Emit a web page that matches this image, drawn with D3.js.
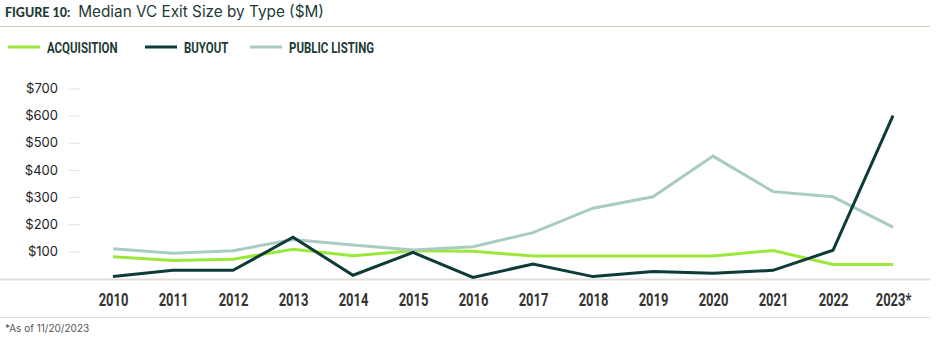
<!DOCTYPE html>
<html><head><meta charset="utf-8">
<script src="https://cdn.jsdelivr.net/npm/d3@7"></script>
<style>
body{margin:0;background:#fff;}
svg{display:block;}
</style></head>
<body>
<svg id="chart" width="945" height="340"></svg>
<script>
const years = ["2010","2011","2012","2013","2014","2015","2016","2017","2018","2019","2020","2021","2022","2023*"];
const acquisition = [80,66,71,108,84,102,100,83,83,83,83,103,52,52];
const buyout = [7,30,30,152,12,96,4,53,7,26,19,30,104,600];
const publicListing = [110,93,102,144,123,105,117,169,259,301,451,320,301,189];
const yTicks = [100,200,300,400,500,600,700];
const seriesNames = ["ACQUISITION","BUYOUT","PUBLIC LISTING"];
const seriesColors = ["#9be83a","#0d3b37","#a9cbc3"];

const svg = d3.select("#chart");
const condensed = "Roboto, 'Noto Sans', sans-serif";
const squeeze = 0.74;

// Title
const title = svg.append("text").attr("x",5).attr("y",17).attr("fill","#1d3b36");
title.append("tspan").attr("font-family","Lato, 'Noto Sans', sans-serif").attr("font-weight","900").attr("font-size",12.5).text("FIGURE 10:");
title.append("tspan").attr("dx",8).attr("font-family","Inter, 'Noto Sans', sans-serif").attr("font-size",15.3).attr("font-weight","400").text("Median VC Exit Size by Type ($M)");
svg.append("line").attr("x1",0).attr("x2",930).attr("y1",26.5).attr("y2",26.5).attr("stroke","#d3c9b8").attr("stroke-width",1);

// Legend
const legX = [8,145,250];
seriesNames.forEach((n,i)=>{
  const g = svg.append("g").attr("transform",`translate(${legX[i]},47)`);
  g.append("line").attr("x1",0).attr("x2",32).attr("y1",0).attr("y2",0).attr("stroke",seriesColors[i]).attr("stroke-width",3);
  g.append("text").attr("transform",`translate(39,5.5) scale(${squeeze},1)`).attr("font-family",condensed).attr("font-weight","700").attr("font-size",15.5).attr("fill","#1d3b36").text(n);
});

const x = d3.scalePoint().domain(years).range([113,893]);
const y = d3.scaleLinear().domain([0,700]).range([278.5,88.5]);

// y ticks
const yAxis = svg.append("g").attr("transform","translate(80,0)")
  .call(d3.axisLeft(y).tickValues(yTicks).tickSize(12).tickPadding(10).tickFormat(d=>"$"+d));
yAxis.select(".domain").remove();
yAxis.selectAll(".tick line").attr("stroke","#e6e3dc").attr("stroke-width",1);
yAxis.selectAll(".tick text").attr("font-family","Inter, 'Noto Sans', sans-serif").attr("font-size",13).attr("fill","#222");

// baseline
svg.append("line").attr("x1",0).attr("x2",930).attr("y1",279.5).attr("y2",279.5).attr("stroke","#e0ddd6").attr("stroke-width",2);

// x axis labels
const xAxis = svg.append("g").attr("transform","translate(0,280)")
  .call(d3.axisBottom(x).tickSize(0).tickPadding(13));
xAxis.select(".domain").remove();
xAxis.selectAll(".tick text").attr("transform","scale(0.72,1)").attr("font-family",condensed).attr("font-weight","700").attr("font-size",18).attr("fill","#333");

// bottom rule & footnote
svg.append("line").attr("x1",0).attr("x2",930).attr("y1",317.5).attr("y2",317.5).attr("stroke","#e0ddd6").attr("stroke-width",1);
svg.append("text").attr("x",5).attr("y",332).attr("font-family","Inter, 'Noto Sans', sans-serif").attr("font-size",10).attr("fill","#555").text("*As of 11/20/2023");

// lines
const line = d3.line().x((d,i)=>x(years[i])).y(d=>y(d));
[[acquisition,0],[publicListing,2],[buyout,1]].forEach(([s,idx])=>{
  svg.append("path").datum(s).attr("d",line).attr("fill","none")
    .attr("stroke",seriesColors[idx]).attr("stroke-width",3).attr("stroke-linejoin","miter");
});
</script>
</body></html>
